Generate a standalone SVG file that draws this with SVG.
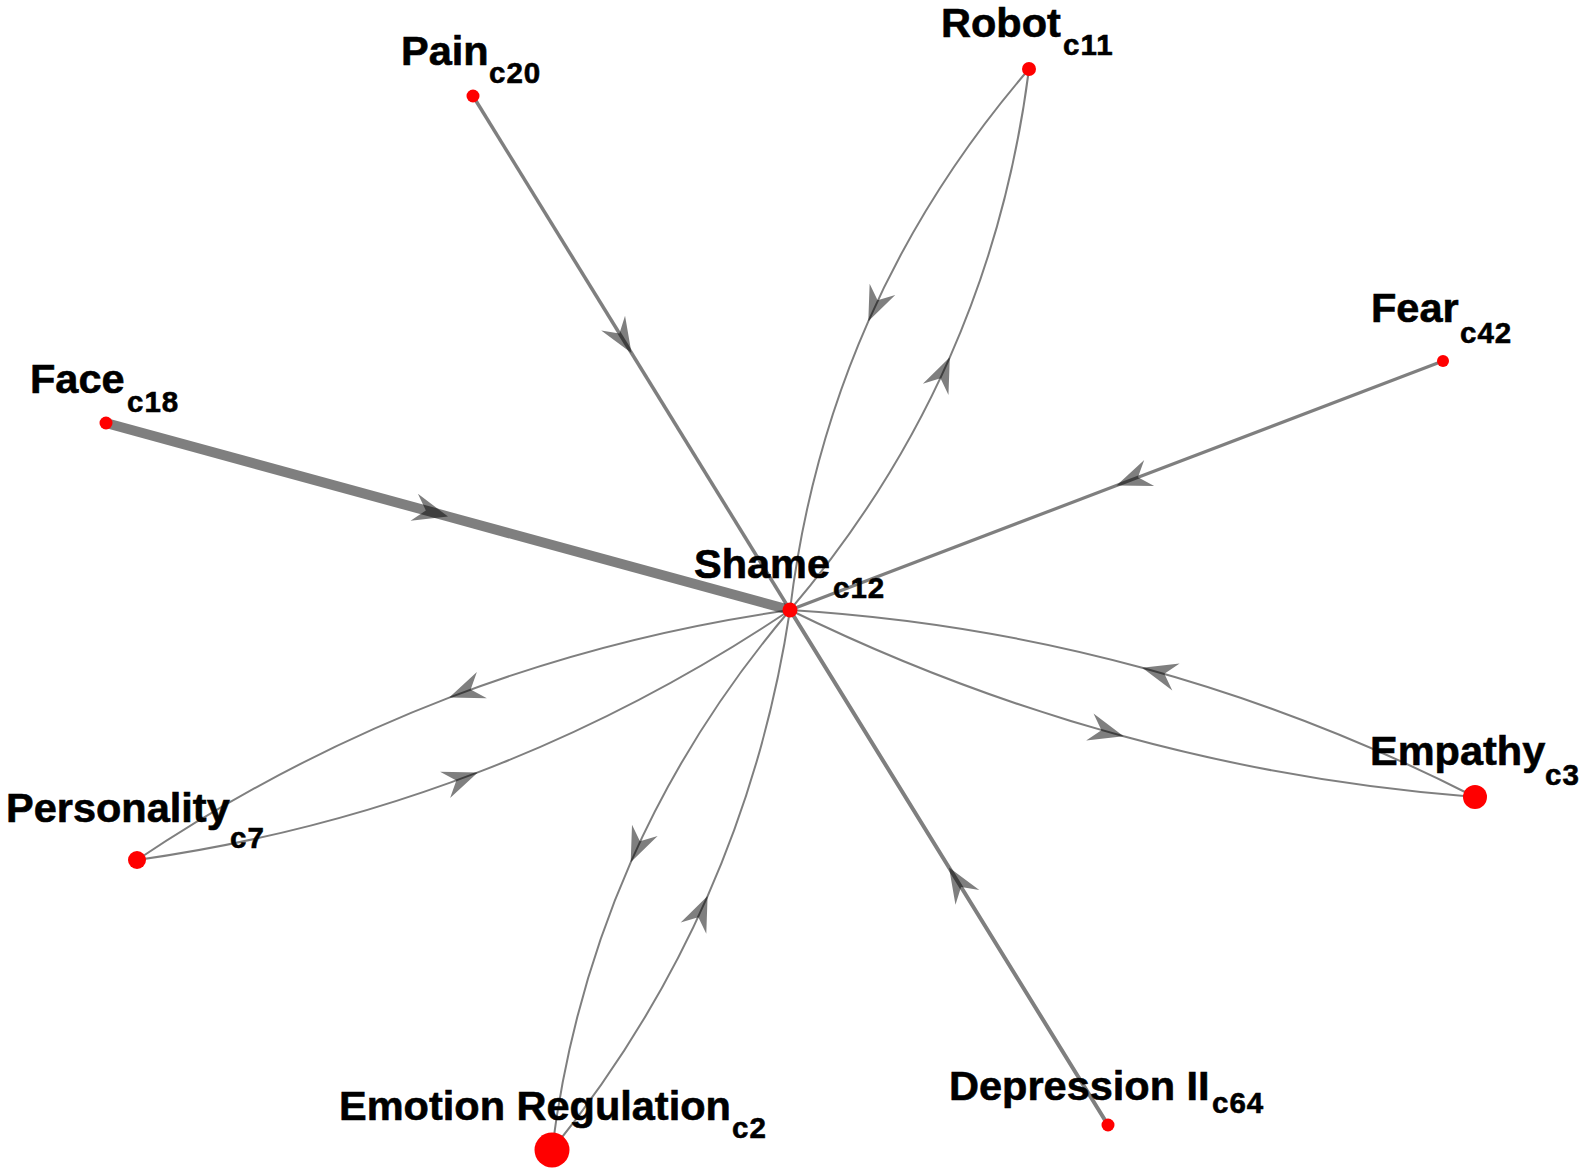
<svg xmlns="http://www.w3.org/2000/svg" width="1591" height="1176" viewBox="0 0 1591 1176">
<style>
.e{fill:none;stroke:#000;stroke-opacity:0.5;marker-mid:url(#arr)}
.c{stroke-width:2}
.n{fill:#ff0000}
.lb{font-family:"Liberation Sans",Arial,Helvetica,sans-serif;font-weight:bold;fill:#000;stroke:#000;stroke-width:0.6px}
.m{font-size:41.5px}
.s{font-size:29.5px;letter-spacing:1px}
</style>
<defs>
<marker id="arr" markerUnits="userSpaceOnUse" viewBox="-40 -20 45 40" markerWidth="45" markerHeight="40" refX="0" refY="0" orient="auto" overflow="visible">
<path d="M0,0 L-35,-14 L-23,0 L-35,14 Z" fill="#000" fill-opacity="0.5"/>
</marker>
</defs>
<rect width="1591" height="1176" fill="#fff"/>
<g id="connectors">
<path class="e" stroke-width="10" d="M106,423 L448,516.5 L790,610"/>
<path class="e" stroke-width="3.5" d="M473,96 L631.5,353 L790,610"/>
<path class="e" stroke-width="3.2" d="M1443,361 L1116.5,485.5 L790,610"/>
<path class="e" stroke-width="4" d="M1108,1125 L949,867.5 L790,610"/>
<path class="e c" d="M1029,69 Q928.1,186.1 868.3,321.3 Q808.6,456.6 790,610"/>
<path class="e c" d="M790,610 Q890,492.6 949.8,357.3 Q1009.5,222.1 1029,69"/>
<path class="e c" d="M1475,797 Q1313.5,714.6 1142.2,667.8 Q971,621.1 790,610"/>
<path class="e c" d="M790,610 Q952.3,689.6 1123.6,736.3 Q1294.8,783.1 1475,797"/>
<path class="e c" d="M790,610 Q612.5,635.2 449.2,697.6 Q286,760.2 137,860"/>
<path class="e c" d="M137,860 Q314.6,834.9 477.8,772.4 Q641.1,709.9 790,610"/>
<path class="e c" d="M790,610 Q690.3,727.3 630.7,862.3 Q571.3,997.3 552,1150"/>
<path class="e c" d="M552,1150 Q648.1,1031.2 707.6,896.1 Q767.1,761.2 790,610"/>
</g>
<g id="node-shame"><circle class="n" cx="790" cy="610" r="7.5"/><text class="lb m" x="694" y="578">Shame</text><text class="lb s" x="833" y="598">c12</text></g>
<g id="node-pain"><circle class="n" cx="473" cy="96" r="6.5"/><text class="lb m" x="401" y="65">Pain</text><text class="lb s" x="489" y="83">c20</text></g>
<g id="node-robot"><circle class="n" cx="1029" cy="69" r="7"/><text class="lb m" x="941" y="37">Robot</text><text class="lb s" x="1063" y="55">c11</text></g>
<g id="node-fear"><circle class="n" cx="1443" cy="361" r="6"/><text class="lb m" x="1371" y="322">Fear</text><text class="lb s" x="1460" y="343">c42</text></g>
<g id="node-face"><circle class="n" cx="106" cy="423" r="6.5"/><text class="lb m" x="30" y="393">Face</text><text class="lb s" x="127" y="412">c18</text></g>
<g id="node-personality"><circle class="n" cx="137" cy="860" r="9"/><text class="lb m" x="6" y="822">Personality</text><text class="lb s" x="230" y="848">c7</text></g>
<g id="node-empathy"><circle class="n" cx="1475" cy="797" r="12"/><text class="lb m" x="1370" y="765">Empathy</text><text class="lb s" x="1545" y="785">c3</text></g>
<g id="node-emotion-regulation"><circle class="n" cx="552" cy="1150" r="17.5"/><text class="lb m" x="339" y="1120">Emotion Regulation</text><text class="lb s" x="732" y="1138">c2</text></g>
<g id="node-depression"><circle class="n" cx="1108" cy="1125" r="6.5"/><text class="lb m" x="949" y="1100">Depression II</text><text class="lb s" x="1212" y="1113">c64</text></g>
</svg>
